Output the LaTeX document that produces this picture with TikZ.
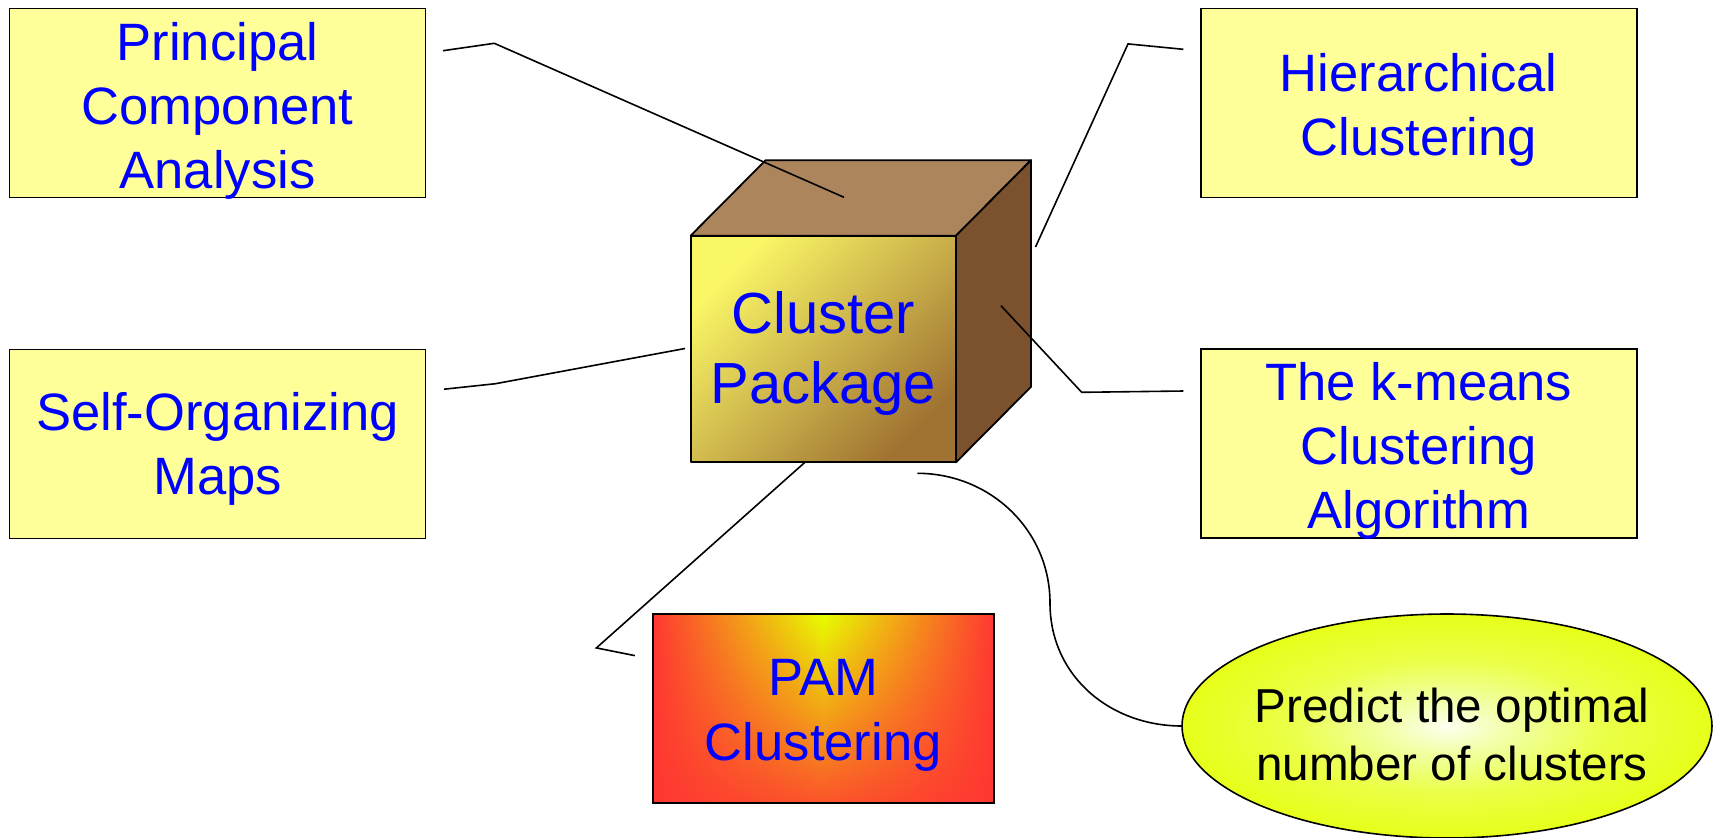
\documentclass[tikz,border=0pt]{standalone}
\usepackage{fontspec}
\setmainfont{Liberation Sans}
\usetikzlibrary{fadings,calc,shapes.geometric}
\definecolor{boxfill}{RGB}{255,255,153}
\definecolor{txtblue}{RGB}{0,0,255}
\definecolor{cubetop}{RGB}{173,133,93}
\definecolor{cuberight}{RGB}{123,82,45}
\definecolor{cubeA}{RGB}{250,247,102}
\definecolor{cubeM}{RGB}{212,196,82}
\definecolor{cubeB}{RGB}{160,115,50}
\definecolor{pamred}{RGB}{255,55,50}
\definecolor{pamyellow}{RGB}{232,255,0}
\definecolor{ellA}{RGB}{253,255,240}
\definecolor{ellB}{RGB}{242,255,165}
\definecolor{ellC}{RGB}{234,255,70}
\definecolor{ellD}{RGB}{230,255,25}
\pgfdeclareradialshading{ellglow}{\pgfpoint{0bp}{0bp}}{color(0bp)=(ellA); color(6bp)=(ellB); color(15bp)=(ellC); color(25bp)=(ellD); color(50bp)=(ellD)}
\newcommand{\mlines}[1]{\begin{tabular}[t]{@{}c@{}}#1\end{tabular}}
\begin{document}
\begin{tikzpicture}[x=0.5pt,y=-0.5pt,
  infobox/.style={draw=black, line width=0.9pt, fill=boxfill, minimum width=208pt,
    minimum height=94.5pt, inner sep=0pt, outer sep=0pt, text=txtblue,
    font=\fontsize{26.3}{32}\selectfont, text height=0pt},
  widebox/.style={infobox, minimum width=217.9pt},
  conn/.style={draw=black, line width=0.8pt},
  cubeface/.style={draw=black, line width=0.9pt, line join=round},
  cubefront/.style={cubeface, minimum width=132.7pt, minimum height=113.3pt, inner sep=0pt,
    outer sep=0pt, top color=cubeA, middle color=cubeM, bottom color=cubeB, shading angle=45,
    text=txtblue, font=\fontsize{29}{35}\selectfont, text height=0pt, text depth=16pt},
  pambox/.style={minimum width=170.7pt, minimum height=94.3pt, inner sep=0pt, outer sep=0pt,
    left color=pamred, right color=pamred, middle color=pamyellow,
    postaction={fill=pamred, fill opacity=0.85, path fading=north},
    postaction={draw=black, line width=0.9pt},
    text=txtblue, font=\fontsize{26.3}{32.5}\selectfont, text height=0pt, text depth=13.3pt},
  ellbox/.style={ellipse, draw=black, line width=0.8pt, shading=ellglow, minimum width=265pt,
    minimum height=112pt, inner sep=0pt, outer sep=0pt, text=black,
    font=\fontsize{23.8}{29}\selectfont, text height=0pt, text depth=0pt}
]
\useasboundingbox (0,0) rectangle (1719,837);
\fill[white] (0,0) rectangle (1719,837);

% boxes
\node[infobox, text depth=43pt] (pca) at (217.5,103) {\mlines{Principal\\Component\\Analysis}};
\node[widebox, text depth=12pt] (hier) at (1418.8,103) {\mlines{Hierarchical\\Clustering}};
\node[infobox, text depth=13.3pt] (som) at (217.5,444) {\mlines{Self-Organizing\\Maps}};
\node[widebox, text depth=43.5pt] (kmeans) at (1418.8,443.7) {\mlines{The k-means\\Clustering\\Algorithm}};
\node[pambox] (pam) at (823.3,708.3) {\mlines{PAM\\Clustering}};
\node[ellbox] (ell) at (1447,726) {\makebox[0pt]{\hspace*{5pt}\raisebox{2pt}{\mlines{Predict the optimal\\number of clusters}}}};

% cube
\node[cubefront] (cube) at (823.3,349) {\mlines{Cluster\\Package}};
\draw[cubeface, fill=cubetop] (cube.north west) -- ($(cube.north west)+(75,-75.5)$)
  -- ($(cube.north east)+(75,-75.5)$) -- (cube.north east) -- cycle;
\draw[cubeface, fill=cuberight] (cube.north east) -- ($(cube.north east)+(75,-75.5)$)
  -- ($(cube.south east)+(75,-75.5)$) -- (cube.south east) -- cycle;

% connector end points
\coordinate (pcaS) at (443,50.7);
\coordinate (pcaE) at (844,197.3);
\coordinate (hierS) at (1183.3,49.3);
\coordinate (hierE) at (1035.5,247);
\coordinate (somS) at (444,389.2);
\coordinate (somE) at (685,348.5);
\coordinate (kmS) at (1183.3,391);
\coordinate (kmE) at (1001,305.7);
\coordinate (pamS) at (634.8,655.6);
\coordinate (pamE) at (805.8,461.5);
\coordinate (curS) at (917.3,473.3);

% connectors
\draw[conn] (pcaS) -- (494.3,43.3) -- (pcaE);
\draw[conn] (hierS) -- (1128,43.9) -- (hierE);
\draw[conn] (somS) -- (495.5,383.7) -- (somE);
\draw[conn] (kmS) -- (1081.7,392.3) -- (kmE);
\draw[conn] (pamS) -- (596.4,647.9) -- (pamE);
\draw[conn] (curS) .. controls (990,473.3) and (1050,530) .. (1050,603)
  .. controls (1050,676) and (1110,726) .. (ell.west);
\end{tikzpicture}
\end{document}
